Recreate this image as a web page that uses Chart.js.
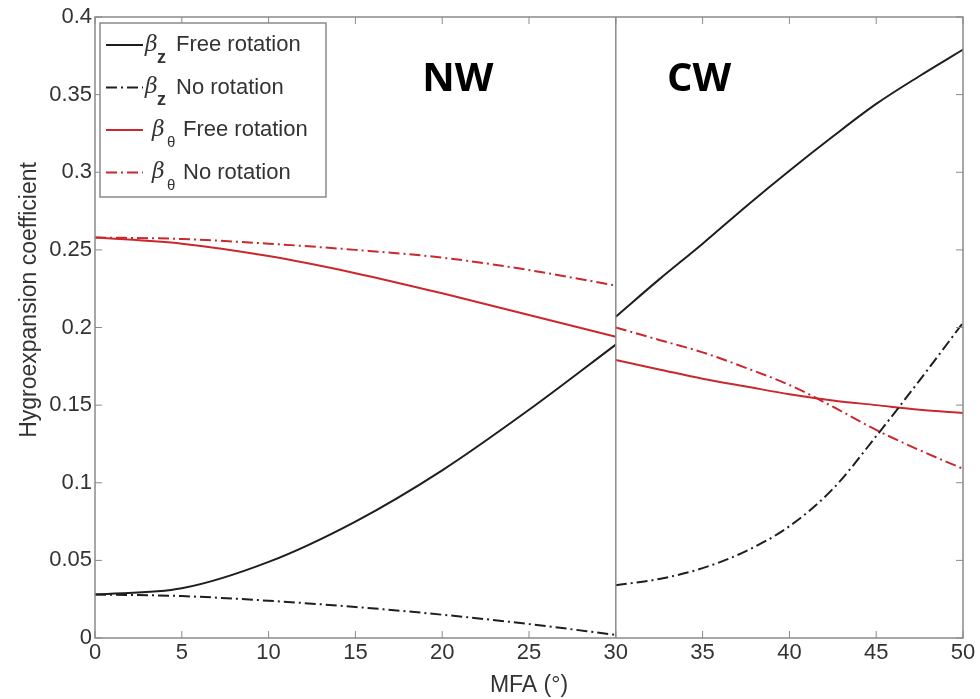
<!DOCTYPE html>
<html>
<head>
<meta charset="utf-8">
<script src="https://cdn.jsdelivr.net/npm/chart.js@4.4.1/dist/chart.umd.min.js"></script>
<style>
  html, body { margin: 0; padding: 0; background: #fff; }
  #wrap { position: relative; width: 980px; height: 699px; }
</style>
</head>
<body>
<div id="wrap"><canvas id="chart" width="980" height="699"></canvas></div>
<script>
// MFA (degrees) sample points for the two wall regions
const mfaNW = [0, 5, 10, 15, 20, 25, 30]
const mfaCW = [30, 32.5, 35, 37.5, 40, 42.5, 45, 47.5, 50]

// Normal wood (NW), MFA 0-30
const betaZFreeNW = [0.028, 0.032, 0.049, 0.075, 0.108, 0.147, 0.189]
const betaZNoRotNW = [0.028, 0.027, 0.024, 0.020, 0.015, 0.009, 0.002]
const betaThFreeNW = [0.258, 0.254, 0.246, 0.235, 0.222, 0.208, 0.194]
const betaThNoRotNW = [0.258, 0.257, 0.254, 0.250, 0.245, 0.237, 0.227]

// Compression wood (CW), MFA 30-50
const betaZFreeCW = [0.207, 0.231, 0.254, 0.278, 0.301, 0.323, 0.344, 0.362, 0.379]
const betaZNoRotCW = [0.034, 0.038, 0.045, 0.056, 0.072, 0.096, 0.130, 0.166, 0.203]
const betaThFreeCW = [0.179, 0.173, 0.167, 0.162, 0.157, 0.153, 0.150, 0.147, 0.145]
const betaThNoRotCW = [0.200, 0.192, 0.184, 0.174, 0.163, 0.149, 0.134, 0.121, 0.109]

const xTicks = [0, 5, 10, 15, 20, 25, 30, 35, 40, 45, 50]
const yTicks = [0, 0.05, 0.1, 0.15, 0.2, 0.25, 0.3, 0.35, 0.4]
const yTickLabels = ['0', '0.05', '0.1', '0.15', '0.2', '0.25', '0.3', '0.35', '0.4']

const BLACK = '#1e1e1e'
const RED = '#c9282c'
const DASHDOT = [11, 4, 2, 4]
const FONT = '"Liberation Sans", Arial, sans-serif'
const TEXT = '#333'

const legendItems = [
  { label: 'Free rotation', sub: 'z', color: BLACK, dash: [] },
  { label: 'No rotation', sub: 'z', color: BLACK, dash: DASHDOT },
  { label: 'Free rotation', sub: 'θ', color: RED, dash: [] },
  { label: 'No rotation', sub: 'θ', color: RED, dash: DASHDOT },
]

function pts(xs, ys) {
  return xs.map((x, i) => ({ x, y: ys[i] }))
}

function series(xs, ys, color, dash) {
  return {
    data: pts(xs, ys),
    borderColor: color,
    borderWidth: 2,
    borderDash: dash,
    pointRadius: 0,
    cubicInterpolationMode: 'monotone',
    fill: false,
  }
}

// MATLAB-ish box with inward ticks, divider at MFA 30, region labels, y title, legend
const decorPlugin = {
  id: 'decor',
  afterDraw(chart) {
    const { ctx, chartArea: a, scales } = chart
    const xs = scales.x, ys = scales.y
    ctx.save()
    ctx.strokeStyle = '#8a8a8a'
    ctx.lineWidth = 1.5
    ctx.strokeRect(a.left, a.top, a.right - a.left, a.bottom - a.top)

    // divider
    const xd = xs.getPixelForValue(30)
    ctx.beginPath()
    ctx.moveTo(xd, a.top)
    ctx.lineTo(xd, a.bottom)
    ctx.stroke()

    // inward ticks
    ctx.lineWidth = 1
    const tl = 7
    xTicks.forEach(v => {
      const px = xs.getPixelForValue(v)
      ctx.beginPath()
      ctx.moveTo(px, a.bottom); ctx.lineTo(px, a.bottom - tl)
      ctx.moveTo(px, a.top); ctx.lineTo(px, a.top + tl)
      ctx.stroke()
    })
    yTicks.forEach(v => {
      const py = ys.getPixelForValue(v)
      ctx.beginPath()
      ctx.moveTo(a.left, py); ctx.lineTo(a.left + tl, py)
      ctx.moveTo(a.right, py); ctx.lineTo(a.right - tl, py)
      ctx.stroke()
    })

    // y axis title (sits a bit above the axis centre in the original)
    ctx.save()
    ctx.translate(30, 300)
    ctx.rotate(-Math.PI / 2)
    ctx.fillStyle = TEXT
    ctx.font = '23px ' + FONT
    ctx.textAlign = 'center'
    ctx.textBaseline = 'middle'
    ctx.fillText('Hygroexpansion coefficient', 0, 0)
    ctx.restore()

    // region labels
    ctx.fillStyle = '#000'
    ctx.font = 'bold 40px "Open Sans", ' + FONT
    ctx.textAlign = 'center'
    ctx.textBaseline = 'middle'
    ctx.fillText('NW', xs.getPixelForValue(20.9), 80)
    ctx.fillText('CW', xs.getPixelForValue(34.8), 80)

    // legend box
    const lx = a.left + 5, ly = a.top + 6, lw = 226, lh = 174
    ctx.fillStyle = '#fff'
    ctx.fillRect(lx, ly, lw, lh)
    ctx.strokeStyle = '#8a8a8a'
    ctx.lineWidth = 1.5
    ctx.strokeRect(lx, ly, lw, lh)

    legendItems.forEach((it, i) => {
      const y = ly + 22 + i * 42.5
      ctx.strokeStyle = it.color
      ctx.lineWidth = 2
      ctx.setLineDash(it.dash)
      ctx.beginPath()
      ctx.moveTo(lx + 6, y)
      ctx.lineTo(lx + 43, y)
      ctx.stroke()
      ctx.setLineDash([])

      const isZ = it.sub === 'z'
      const bx = lx + (isZ ? 45 : 52)
      ctx.fillStyle = TEXT
      ctx.textAlign = 'left'
      ctx.textBaseline = 'middle'
      ctx.font = 'italic 22px "DejaVu Serif", serif'
      ctx.fillText('β', bx, y)
      ctx.font = (isZ ? 'bold 18px ' : '15px ') + FONT
      ctx.fillText(it.sub, bx + (isZ ? 12 : 15), y + 13)
      ctx.font = '22px ' + FONT
      ctx.fillText(it.label, bx + 31, y)
    })
    ctx.restore()
  },
}

new Chart(document.getElementById('chart'), {
  type: 'line',
  data: {
    datasets: [
      series(mfaNW, betaZFreeNW, BLACK, []),
      series(mfaNW, betaZNoRotNW, BLACK, DASHDOT),
      series(mfaNW, betaThFreeNW, RED, []),
      series(mfaNW, betaThNoRotNW, RED, DASHDOT),
      series(mfaCW, betaZFreeCW, BLACK, []),
      series(mfaCW, betaZNoRotCW, BLACK, DASHDOT),
      series(mfaCW, betaThFreeCW, RED, []),
      series(mfaCW, betaThNoRotCW, RED, DASHDOT),
    ],
  },
  options: {
    responsive: false,
    animation: false,
    layout: { padding: { top: 17, right: 17, left: 0, bottom: 0 } },
    plugins: { legend: { display: false }, tooltip: { enabled: false } },
    scales: {
      x: {
        type: 'linear',
        min: 0,
        max: 50,
        afterBuildTicks: s => { s.ticks = xTicks.map(v => ({ value: v })) },
        afterFit: s => { s.height = 61 },
        grid: { display: false, drawTicks: false },
        border: { display: false },
        ticks: { color: TEXT, font: { family: FONT, size: 22 }, padding: 2, maxRotation: 0 },
        title: { display: true, text: 'MFA (°)', color: TEXT, font: { family: FONT, size: 23 }, padding: { top: 0, bottom: 0 } },
      },
      y: {
        min: 0,
        max: 0.4,
        afterBuildTicks: s => { s.ticks = yTicks.map(v => ({ value: v })) },
        afterFit: s => { s.width = 95 },
        grid: { display: false, drawTicks: false },
        border: { display: false },
        ticks: {
          color: TEXT,
          font: { family: FONT, size: 22 },
          padding: 3,
          callback: v => yTickLabels[yTicks.indexOf(Math.round(v * 100) / 100)] ?? '',
        },
        title: { display: false },
      },
    },
  },
  plugins: [decorPlugin],
})
</script>
</body>
</html>
